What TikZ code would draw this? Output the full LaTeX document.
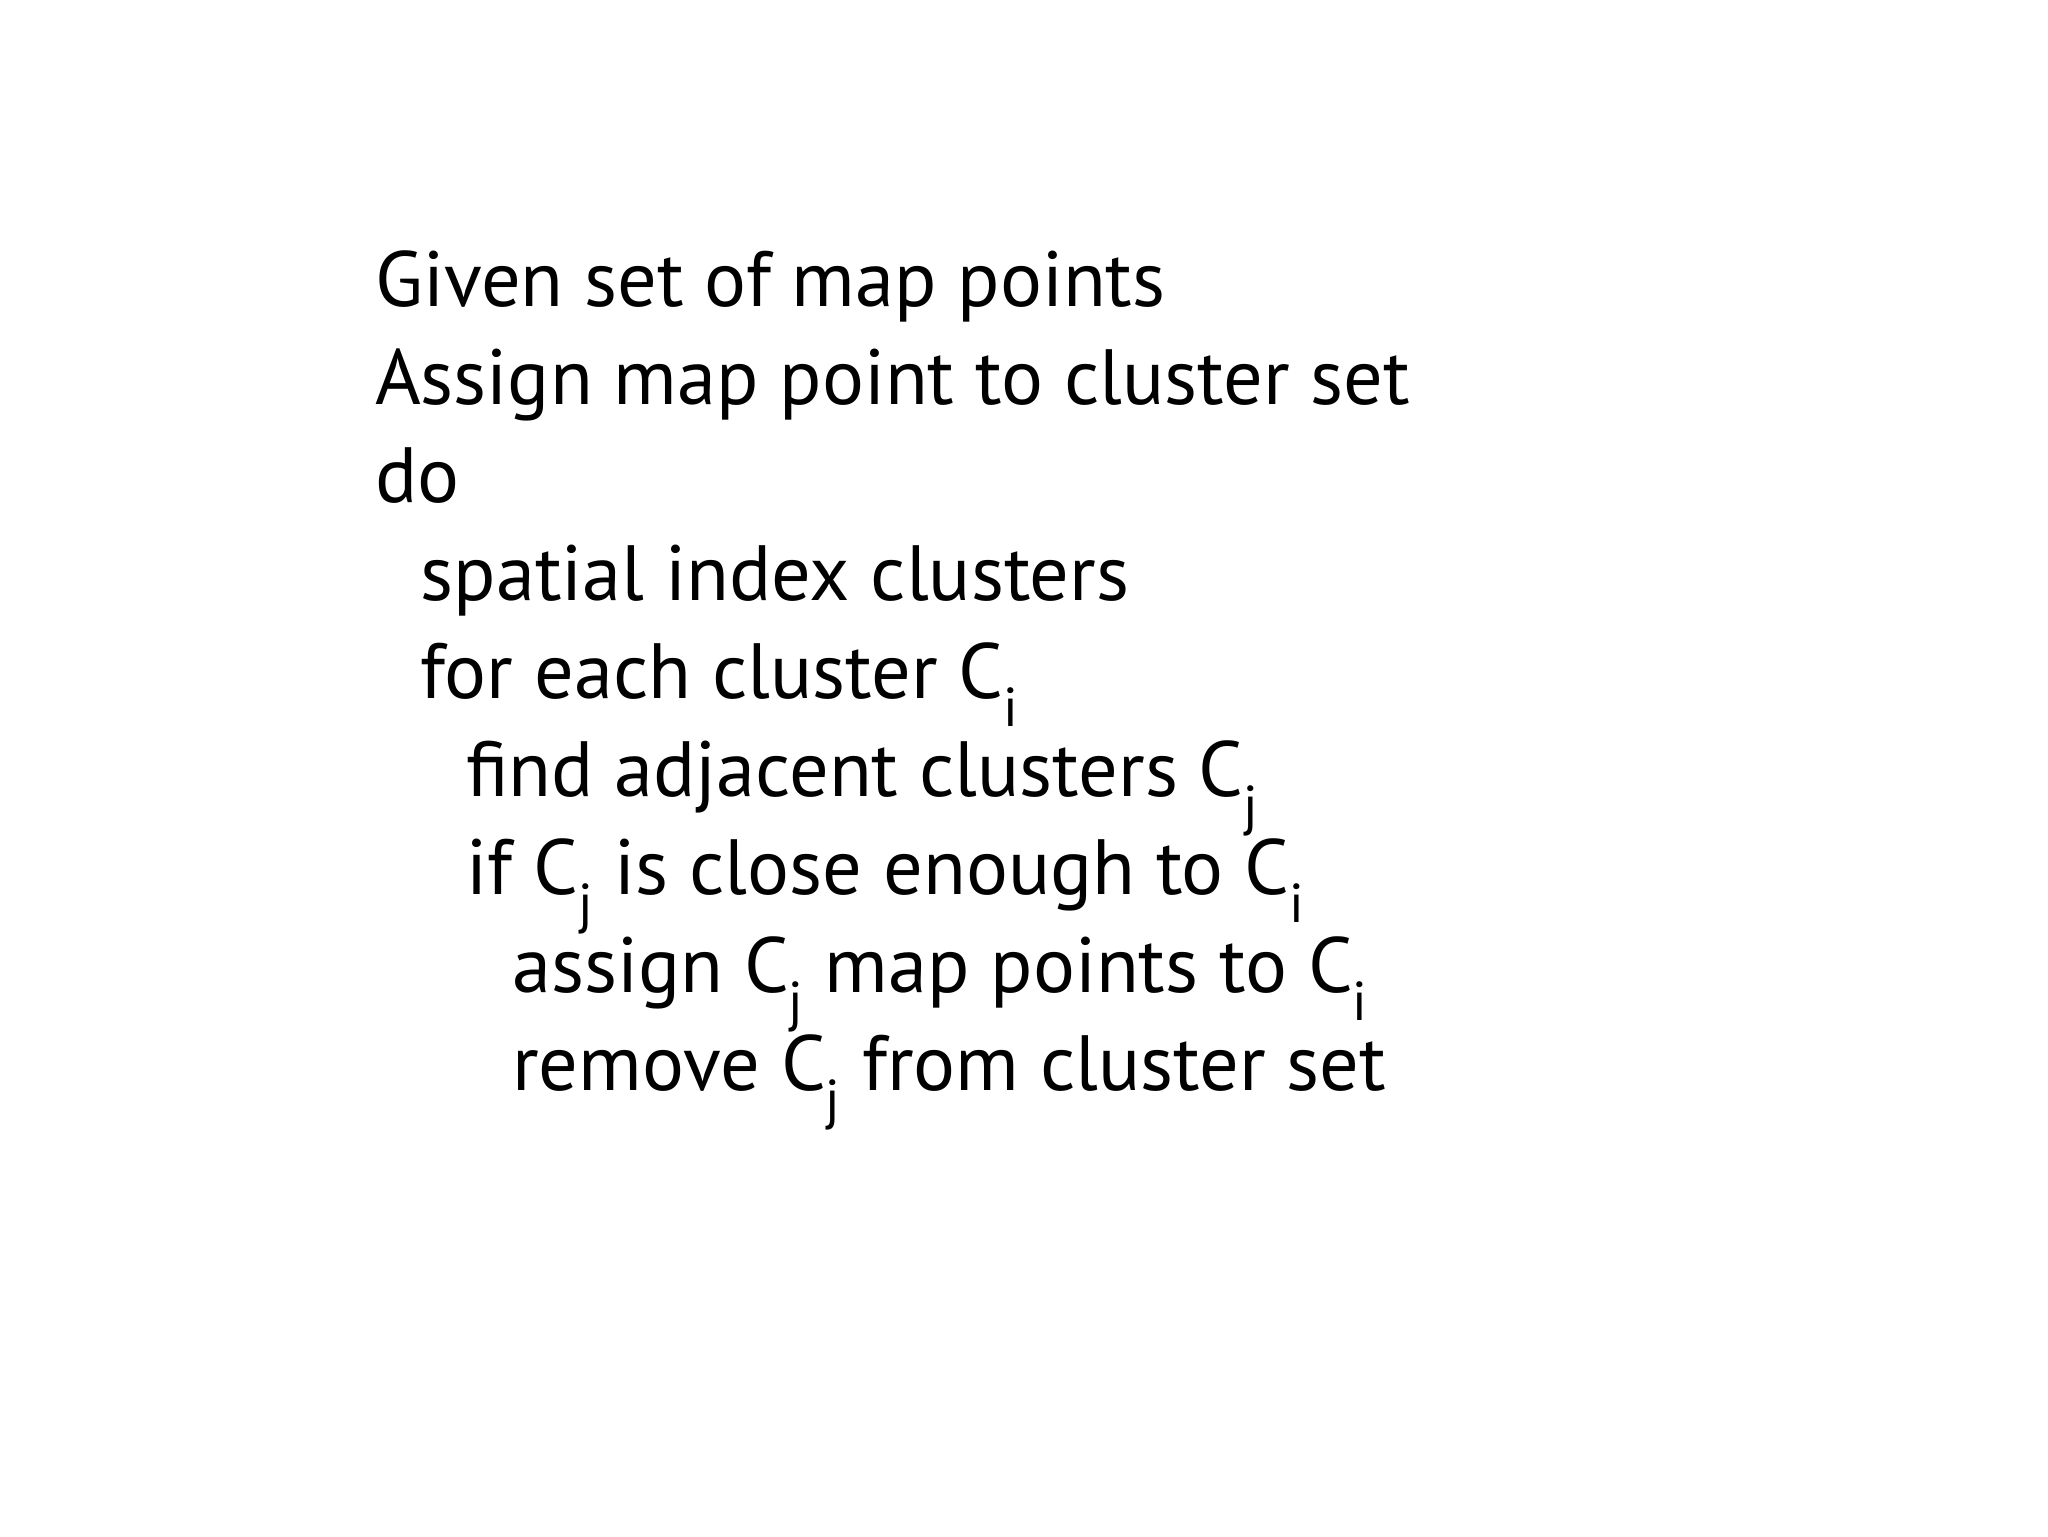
\documentclass[tikz,border=0pt]{standalone}
\usepackage{fontspec}
\setmainfont{PT Sans}
\begin{document}
\begin{tikzpicture}[x=1pt,y=-1pt,
  ln/.style={anchor=base west,inner sep=0pt,font=\fontsize{60}{60}\selectfont}]
\useasboundingbox[fill=white] (0,0) rectangle (1568,1176);
\newcommand{\sbi}{$_{\mathrm{i}}$}
\node[ln] (l1) at (287,235) {Given set of map points};
\node[ln] (l2) at (287,310) {Assign map point to cluster set};
\node[ln] (l3) at (287,385) {do};
\node[ln] (l4) at (322,460) {spatial index clusters};
\node[ln] (l5) at (322,535) {for each cluster C\textsubscript{i}};
\node[ln] (l6) at (357,610) {find adjacent clusters C\textsubscript{j}};
\node[ln] (l7) at (357,685) {if C\textsubscript{j} is close enough to C\textsubscript{i}};
\node[ln] (l8) at (392,760) {assign C\textsubscript{j} map points to C\textsubscript{i}};
\node[ln] (l9) at (392,835) {remove C\textsubscript{j} from cluster set};
\end{tikzpicture}
\end{document}
